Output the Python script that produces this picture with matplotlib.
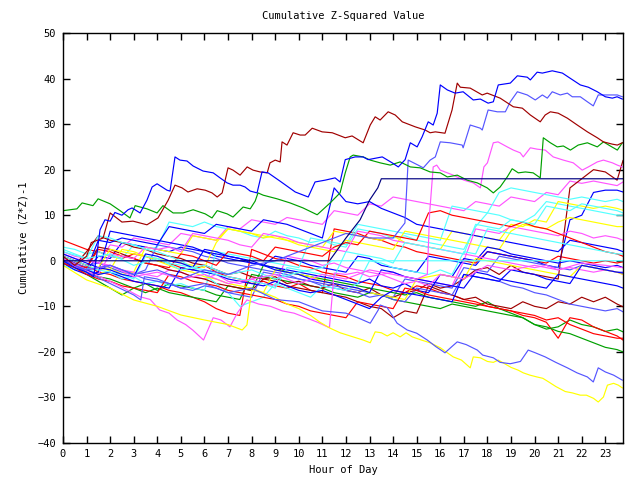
import numpy as np
import matplotlib
matplotlib.use("Agg")
import matplotlib.pyplot as plt

RED = "#ff0000"; GREEN = "#00a000"; BLUE = "#0000ff"; MAGENTA = "#ff55ff"
CYAN = "#55ffff"; DARKRED = "#a00000"; YELLOW = "#ffff00"; SLATE = "#5555ff"; NAVY = "#000080"

# shared half-hour grid for the bundle series
half_hours = list(np.arange(0, 24, 0.5)) + [23.75]

# ---------- prominent series (own hour knots) ----------
blue_top_h = [0, 0.5, 1.0, 1.3, 1.45, 1.57, 1.78, 2.0, 2.2, 2.5,
              2.76, 2.93, 3.27, 3.56, 3.78, 3.99, 4.41, 4.54, 4.75, 4.96,
              5.26, 5.52, 5.94, 6.37, 6.66, 6.96, 7.21, 7.51, 7.72, 7.94,
              8.23, 8.44, 8.70, 9.2, 9.85, 10.40, 10.69, 11.12, 11.54, 11.75,
              11.97, 12.39, 12.73, 12.94, 13.54, 13.96, 14.22, 14.51, 14.73, 15.02,
              15.23, 15.49, 15.70, 15.87, 16.0, 16.3, 16.63, 16.97, 17.4, 17.7,
              18.03, 18.25, 18.46, 18.97, 19.27, 19.69, 19.82, 20.11, 20.33, 20.75,
              21.18, 21.5, 21.94, 22.28, 22.66, 23.0, 23.3, 23.5, 23.72]
blue_top_v = [0, -1.5, -2.5, -3.5, 2, 6.8, 9.0, 8.7, 10.6, 10.0,
              11.2, 11.6, 10.5, 13.3, 16.2, 16.9, 15.5, 15.3, 22.8, 22.1,
              21.9, 20.8, 19.7, 19.3, 18.2, 17.1, 16.6, 16.6, 16.2, 15.3,
              14.9, 19.5, 19.3, 17.5, 15.1, 14.0, 17.3, 17.7, 18.2, 17.3,
              22.2, 22.8, 22.8, 22.2, 22.8, 21.5, 20.6, 22.2, 25.9, 25.0,
              27.2, 30.5, 29.8, 32.4, 38.6, 37.5, 36.8, 37.1, 35.3, 35.5,
              34.6, 34.9, 38.6, 39.0, 40.6, 40.3, 39.7, 41.4, 41.2, 41.7,
              41.2, 40.1, 38.6, 38.1, 37.1, 36.0, 35.7, 36.0, 35.5]

darkred_top_h = [0, 0.5, 1.0, 1.2, 1.45, 1.7, 2.0, 2.5, 2.97, 3.56,
                 4.03, 4.46, 4.75, 5.05, 5.3, 5.69, 6.03, 6.32, 6.54, 6.75,
                 7.0, 7.21, 7.51, 7.81, 8.06, 8.36, 8.66, 8.78, 9.0, 9.21,
                 9.29, 9.5, 9.76, 10.06, 10.27, 10.57, 10.78, 10.99, 11.42, 11.97,
                 12.26, 12.73, 13.03, 13.24, 13.45, 13.79, 14.09, 14.39, 14.94, 15.36,
                 15.57, 15.79, 16.2, 16.5, 16.72, 16.85, 17.27, 17.78, 17.99, 18.54,
                 19.1, 19.48, 19.82, 20.24, 20.45, 20.67, 21.0, 21.39, 21.81, 22.24,
                 22.66, 22.92, 23.3, 23.51, 23.72]
darkred_top_v = [1, -1, 1, 4, 4.5, 5, 10.5, 8.5, 8.7, 7.9,
                 9.4, 13.3, 16.6, 16.0, 15.1, 15.8, 15.5, 14.9, 14.0, 14.9,
                 20.4, 19.9, 18.8, 20.6, 19.9, 19.5, 19.3, 21.5, 22.1, 21.7,
                 26.1, 25.4, 28.1, 27.6, 27.6, 29.1, 28.7, 28.3, 28.1, 27.0,
                 27.4, 25.9, 29.8, 31.6, 30.9, 32.7, 32.0, 30.5, 29.4, 28.7,
                 28.1, 28.3, 28.0, 33.1, 39.0, 38.1, 37.9, 36.4, 36.8, 35.7,
                 33.8, 33.5, 32.0, 30.5, 32.0, 32.7, 32.4, 31.3, 29.8, 28.3,
                 27.0, 26.1, 25.6, 25.4, 25.9]

slate_top_h = [0, 1, 2, 3, 4, 5, 6, 7, 8, 9,
               10, 11, 12, 13, 14, 14.5, 14.64, 15.06, 15.28, 15.57,
               15.79, 16.0, 16.42, 16.93, 16.97, 17.27, 17.7, 17.78, 18.03, 18.42,
               18.76, 18.97, 19.27, 19.69, 20.03, 20.33, 20.54, 20.75, 21.09, 21.39,
               21.6, 21.94, 22.24, 22.49, 22.7, 23.09, 23.51, 23.72]
slate_top_v = [0, -2, -1, -3, -2, -4, -2, -3, -1, 0,
               2, 4, 6, 5, 5, 8.3, 22.1, 21.0, 20.4, 22.1,
               22.8, 26.1, 25.9, 25.4, 24.8, 29.8, 29.1, 28.7, 33.1, 32.7,
               32.7, 34.9, 37.1, 36.4, 35.3, 36.4, 35.7, 37.1, 36.4, 36.8,
               36.0, 36.0, 34.9, 34.0, 36.4, 36.4, 36.4, 36.0]

green_top_h = [0, 0.59, 0.81, 1.27, 1.49, 2.0, 2.42, 2.84, 3.06, 3.56,
               3.99, 4.24, 4.67, 5.09, 5.52, 6.03, 6.32, 6.54, 6.96, 7.21,
               7.64, 7.94, 8.15, 8.27, 8.49, 9.08, 9.63, 10.18, 10.78, 11.33,
               11.75, 11.97, 12.18, 12.31, 12.73, 13.03, 13.45, 13.88, 14.3, 14.73,
               15.15, 15.57, 16.0, 16.3, 16.72, 17.14, 17.57, 17.99, 18.25, 18.54,
               18.84, 19.05, 19.31, 19.61, 19.94, 20.24, 20.37, 20.67, 20.96, 21.22,
               21.52, 21.85, 22.24, 22.66, 22.92, 23.21, 23.51, 23.72]
green_top_v = [11.0, 11.4, 12.7, 12.1, 13.6, 12.5, 11.0, 9.4, 12.1, 11.4,
               10.5, 12.1, 10.5, 10.5, 11.2, 10.3, 9.4, 11.0, 10.3, 9.6,
               11.8, 11.4, 13.1, 14.9, 14.4, 13.6, 12.7, 11.6, 10.1, 12.7,
               14.9, 19.3, 22.8, 23.2, 22.8, 22.1, 21.5, 21.0, 21.7, 20.6,
               20.4, 19.5, 19.3, 18.4, 18.8, 17.7, 17.1, 16.0, 14.9, 16.2,
               18.4, 20.2, 19.3, 19.5, 19.3, 18.2, 27.0, 25.9, 25.0, 25.2,
               24.3, 25.4, 25.9, 25.0, 26.1, 25.2, 24.3, 25.9]

magenta_top_h = [0, 1, 2, 3, 4, 5, 6, 7, 8, 9, 10, 11, 12, 13, 14, 15,
                 15.45, 15.55, 15.7, 15.85,
                 16.0, 16.55, 17.0, 17.4, 17.7, 17.85, 18.0, 18.25, 18.45, 18.84,
                 19.1, 19.39, 19.52, 19.82, 20.11, 20.45, 20.79, 21.22, 21.64, 22.02,
                 22.28, 22.66, 22.92, 23.3, 23.51, 23.72]
magenta_top_v = [0.5, -2, -1, -3.5, -2.5, -4, -3, -5, -4, -3, -5, -3, -4, -2, -3, -4,
                 -3, 10.5, 20.6, 21.0,
                 19.9, 18.8, 17.7, 17.1, 16.0, 20.6, 21.5, 25.9, 26.1, 25.0,
                 24.3, 23.7, 22.8, 24.8, 24.5, 24.3, 22.8, 22.1, 21.5, 19.9,
                 20.6, 21.7, 22.1, 21.5, 21.0, 20.6]

navy_flat_h = [0, 11.3, 12.0, 12.6, 13.0, 13.35, 13.5, 23.75]
navy_flat_v = [0, 0, 5, 9, 13.3, 16, 18, 18]

cyan_flat_h = [0, 1, 2, 3, 4, 5, 6, 7, 8, 9, 10, 11, 11.4, 23.75]
cyan_flat_v = [2, 0.5, 1.5, -1, 0.5, -2, -1, -3, -2, -4, -2.5, -1.5, 0, 0]

yellow_low_h = [0, 1, 2, 3, 4, 5, 6, 7, 7.6, 7.8,
                8.0, 8.5, 9, 9.5, 10, 10.5, 10.9, 11.33, 11.75, 12.3,
                12.73, 13.03, 13.24, 13.5, 13.75, 14.0, 14.3, 14.55, 14.81, 15.2,
                15.57, 16.0, 16.3, 16.55, 16.9, 17.27, 17.4, 17.7, 18.0, 18.25,
                18.46, 18.7, 19.0, 19.3, 19.52, 19.8, 20.1, 20.35, 20.6, 20.9,
                21.3, 21.6, 21.94, 22.2, 22.5, 22.7, 22.92, 23.09, 23.35, 23.55,
                23.72]
yellow_low_v = [-1, -4.2, -6, -8.6, -10, -11.9, -13, -14, -15.2, -14.1,
                -6.5, -7, -8, -9.5, -10.5, -12, -13.5, -14.8, -15.8, -16.7,
                -17.4, -18.0, -15.6, -15.8, -16.5, -15.8, -16.7, -15.8, -16.7, -17.4,
                -18.0, -19.1, -20.2, -21.1, -21.8, -23.5, -21.1, -21.3, -22.1, -22.3,
                -21.8, -22.5, -23.4, -24.0, -24.6, -25.1, -25.5, -25.8, -26.6, -27.6,
                -28.7, -29.0, -29.5, -29.5, -30.2, -31.0, -29.9, -27.3, -26.9, -27.3,
                -27.9]

slate_low_h = [0, 1, 2, 3, 3.3, 3.45, 4, 5, 6, 7,
               8, 9, 10, 11, 12, 12.5, 13.03, 13.37, 13.45, 13.75,
               14.17, 14.6, 15.0, 15.45, 15.8, 16.2, 16.5, 16.72, 17.1, 17.57,
               17.8, 18.25, 18.54, 18.97, 19.4, 19.73, 20.03, 20.45, 20.9, 21.39,
               21.8, 22.24, 22.49, 22.7, 23.0, 23.35, 23.72]
slate_low_v = [0.5, -2.5, -5, -7.5, -8.6, -3.5, -4, -6, -5, -7,
               -6, -8.5, -9, -11, -11.5, -12.5, -13.7, -10.8, -9.7, -10.3,
               -13.7, -15.2, -15.9, -17.4, -18.8, -20.2, -18.8, -17.8, -18.4, -19.6,
               -20.7, -21.3, -22.3, -22.6, -22.1, -19.6, -20.2, -21.1, -22.3, -23.5,
               -24.6, -25.5, -26.6, -23.5, -24.4, -25.1, -26.2]

magenta_low_h = [0, 0.8, 1.57, 2.4, 3.27, 3.7, 4.1, 4.5, 4.84, 5.2,
                 5.5, 5.96, 6.37, 6.7, 7.08, 7.4, 7.8, 8.3, 8.8, 9.3,
                 9.8, 10.3, 10.8, 11.3, 11.5, 12.0, 12.5, 13.0, 13.5, 14.0,
                 14.5, 15.0, 15.5, 16.0, 17.0, 18.0, 19.0, 20.0, 21.0, 22.0,
                 23.0, 23.72]
magenta_low_v = [0, -2, -3.5, -5.5, -7.9, -8.5, -10.8, -11.5, -13, -14,
                 -15.2, -17.4, -12.5, -13, -14.5, -11.4, -8.6, -9.5, -10, -11,
                 -11.5, -12.5, -13.5, -14.7, -2.7, -3, -2.5, -3.5, -3, -4,
                 -5, -4.5, -5.5, -3, -4, -1, -2, -1, -2, -0.5,
                 -1, -1.5]

# ---------- bundle series on the half-hour grid ----------
cyan_a = [3, 2.5, 1.5, 2, 1, 0.5, 3.5, 2.5, 3, 8.5, 8, 7.5, 8.5, 7.5, 7, 6.5,
          5.5, 5, 6.5, 5.5, 5, 4, 4.5, 3.5, 3, 7, 6.5, 6, 5, 5.5, 4.5, 4,
          3.5, 3, 2.5, 7.5, 10.5, 10, 9, 8.5, 10, 13, 12.5, 12, 11.5, 11, 10.5, 10, 10]
yellow_a = [1, 0, -1, -2, -1.5, -3, -2.5, 3, 2.5, 2, 1.5, 5.5, 5, 4.5, 7, 6.5,
            6, 5, 5.5, 4.5, 4, 3.5, 3, 6.5, 6, 5.5, 5, 4.5, 5.5, 4, 3.5, 3,
            2.5, 6.5, 6, 5.5, 5, 4.5, 8, 7.5, 9, 8.5, 13, 12.5, 12, 11.5, 12, 11.5, 11.1]
cyan_b = [-1, -2, -1.5, -3, -2.5, -4, -3.5, -5, -4.5, -5.5, -5, -6, -6.5, 2, 1.5, 1,
          0.5, 0, -0.5, -1, -1.5, 5, 4.5, 4, 3.5, 8, 7.5, 7, 6.5, 6, 5.5, 5,
          4.5, 12, 11.5, 11, 10.5, 15, 16, 15.5, 15, 14.5, 14, 13.5, 14, 13.5, 13, 13.5, 13]
blue_a = [0, -1, -2, 1, 0.5, 4, 3.5, 3, 2.5, 2, 3, 2.5, 2, 1, 0.5, 0,
          -0.5, -1, 1, 0.5, 0, -1, -1.5, -2, -2.5, 1, 0.5, -1, -1.5, -2, -2.5, 1,
          0.5, 0, -0.5, -1, 2, 1.5, 1, 0.5, 0, -1, -1.5, 9, 10, 15, 15.5, 15.5, 15.1]
magenta_a = [1.5, 0.5, 0, -0.5, 3.5, 3, 5, 4.5, 4, 3.5, 6, 5.5, 5, 4.5, 7.5, 7,
             9, 8.5, 8, 9.5, 9, 8.5, 8, 11, 10.5, 10, 12.5, 12, 14, 13.5, 13, 12.5,
             12, 11.5, 11, 13, 12.5, 12, 14, 13.5, 13, 15, 14.5, 17.5, 17, 17.5, 17, 16.5, 17.3]
darkred_a = [0.5, -1, 2, 5.5, 4.5, 4, 3, 2.5, 1.5, 1, 0.5, -0.5, -1, -2, -3, -2.5,
             -3.5, -4, -3.5, -5, -4.5, -5.5, -6, -5, -6.5, -7, -6, -7.5, -8, -7, -6.5, -5,
             -6, -5.5, -4, -2, -1.5, -3, -1, -2.5, -3, -3.5, -4, 16, 18, 20, 19.5, 17.7, 22]
magenta_b = [2, 1, 0.5, -0.5, -1, -2, -2.5, -3, -3.5, -2, -2.5, -3.5, -4, -3, -4.5, -5,
             -4, -5, -5.5, 1, 0.5, 0, -1, -0.5, -1.5, -2, -2.5, -3, -2.5, -3.5, -4, -4.5,
             -5, -5.5, 0, 7, 6.5, 6, 7.5, 7, 6.5, 6, 5.5, 6.5, 6, 5, 5.5, 5, 4.5]
yellow_b = [-0.5, -1.5, -2.5, -3, -2, 2.5, 2, 1, 0.5, 0, -0.5, -1, -1.5, 4, 7, 6.5,
            6, 5.5, 5, 4.5, 3.5, 3, 2.5, 2, 4.5, 4, 3.5, 3, 2.5, 6.5, 6, 5.5,
            5, 4.5, 4, 3.5, 3, 2.5, 6.5, 8, 7.5, 7, 8.5, 9.5, 9, 8.5, 8, 7.5, 7.5]
blue_b = [0, -1.5, -2, 4.5, 4, 5, 4.5, 4, 3.5, 7.5, 7, 6.5, 6, 8, 7.5, 7,
          6.5, 9, 8.5, 8, 7, 6, 5, 16, 13, 12.5, 13, 11.5, 10.5, 9.5, 8, 7.5,
          7, 6.5, 6, 5.5, 5, 4.5, 4, 3.5, 3, 2.5, 2, 4.5, 4, 3.5, 3, 2.5, 2]
red_a = [4.5, 3.5, 2.5, 2, 1, 0.5, 1.5, 1, 0, -0.5, -1.5, -2, -1, -2.5, -3.5, -4,
         -5, -4.5, -5.5, -6, -5, -6.5, -7, 7, 6.5, 6, 5, 4.5, 3.5, 3, 2, 1.5,
         1, 0.5, 0, -0.5, 2, 1.5, 1, 0.5, 0, -0.5, 1, 0.5, 0, -0.5, 0, -0.5, -0.2]
blue_c = [-0.5, -2, -3, -2.5, 6.5, 6, 5.5, 5, 4.5, 4, 3.5, 3, 2, 1.5, 1, 0.5,
          0, -1, -1.5, -2, -2.5, -3, -3.5, -4, -4.5, -5, -4, -5.5, -6, -5, -6.5, -7,
          -3, -3.5, 0.5, 0, 3, 2.5, 1.5, 1, 0.5, 0, -0.5, 0, -0.5, -1, -1.5, -1, -1.5]
slate_a = [1, 0, -1, -0.5, -1.5, -2.5, -3, -2, 3.5, 3, 2.5, 2, 1, 0.5, -0.5, -1,
           -1.5, -2, -2.5, -3, -4, -4.5, -5, -5.5, -6, -6.5, -7, -7.5, -8, -4, -4.5, -5,
           -5.5, -6, -1.5, -2, -2.5, 1, 0.5, 0, -0.5, -1, -1.5, -2, -1, -1.5, -2, -2.5, -2.5]
blue_d = [0, -1, -2, -3, -2.5, -3.5, -4.5, -5, -5.5, -6, -1.5, -2, -2.5, -3, -4, -4.5,
          -5, -5.5, -4.5, -5.5, -6.5, -7, -6.5, -7.5, -8.5, -9.5, -10.5, -8, -6.5, -7, -7.5, -8,
          -8.5, -9, -3, -3.5, -4, -4.5, -2, -2.5, -3, -4, -4.5, -5, -1, -1.5, -2, -2.5, -2.7]
darkred_b = [0.5, -0.5, -1.5, 3, 2.5, 1.5, 0.5, -0.5, -1, -2, -2.5, -3.5, -4, -5, -5.5, -6,
             -6.5, -4, -4.5, -5.5, -6, -6.5, -7, -7.5, -8, -9, -10, -10.5, -12.5, -11, -11.5, -5.5,
             -6.5, -7.5, -8.5, -8, -9.5, -10, -10.5, -9, -10, -10.5, -9, -9.5, -8, -9, -8, -9.5, -10.1]
slate_b = [0.5, -0.5, -1.5, -2, -1, -2, -3, -4, -4.5, -5, -6, -6.5, -5.5, -6, -7, -7.5,
           -8, -2.5, -3, -3.5, -4, -4.5, -5.5, -6, -6.5, -7, -8, -7.5, -8.5, -9, -6, -6.5,
           -7, -7.5, -3, -3.5, -4, -4.5, -5.5, -6, -7, -7.5, -8.5, -9.5, -10, -10.5, -11, -10.5, -11.2]
green_a = [0, -1.5, -3, -4.5, -6, -7.5, -6, -5, -6.5, -5, -5.5, -6, -6.5, -7.5, -8, -8.5,
           -3, -3.5, -4, -4.5, -5, -5.5, -6, -7, -7.5, -8, -7, -7.5, -8.5, -9, -9.5, -10,
           -10.5, -9.5, -10, -10.5, -11, -11.5, -12, -12.5, -14, -15, -14.5, -13, -14, -14.5, -15.5, -15, -15.6]
red_b = [1, 0, -1, -2.5, -3, -4, -4.5, -5, -5.5, -6.5, -7, -8, -9, -10.5, -11.5, -12,
         2.5, 1.5, 0.5, 0, -1, -1.5, -2.5, -3, -3.5, -4.5, -5, -5.5, -6.5, -7, -5.5, -6,
         -7, -7.5, -8.5, -9, -10, -10.5, -11, -12, -12.5, -13.5, -17, -12.5, -13, -14.5, -15.5, -16.5, -17.4]
green_b = [-0.5, -1.5, -2.5, -3.5, -4, -5, -6, -7, -6, -7, -7.5, -8, -8.5, -9, -5.5, -6,
           -6.5, -1, -1.5, -2.5, -3, -3.5, -4, -4.5, -5, -5.5, -6, -6.5, -7, -7.5, -7, -8,
           -8.5, -9, -9.5, -10, -9, -10.5, -11.5, -12.5, -14, -14.5, -15.5, -16, -17, -18, -19, -19.5, -20]
cyan_c = [2.5, 1.5, 0.5, 5.5, 5, 4, 3.5, 2.5, 2, 1, 0, -1.5, -3, -5, -7, -10,
          -9, -8, -5, -6, -7, -8, -5.5, -6, -6.5, -5, 0, -0.5, -1.5, -2, -2.5, -3,
          -2, -3, 2, 1.5, 7, 6.5, 6, 5.5, 5, 4.5, 4, 3.5, 3, 2.5, 2, 1.5, 1.5]
red_c = [0, -1, -1.5, 2.5, 2, 1, 0.5, -0.5, -1, -1.5, 1.5, 1, 0, -1, 2, 1.5,
         1, 0, 3, 2.5, 2, 1.5, 1, 3, 4, 3.5, 6.5, 6, 5.5, 5, 4.5, 10.5,
         11, 10, 9.5, 9, 8.5, 8, 7.5, 8.5, 7.5, 7, 6, 5, 4, 3, 2, 1.5, 1]
magenta_c = [0, -1, -2, -3, 1.5, 1, 0.5, 3, 2.5, 3, 2, 6, 5.5, 5, 4.5, 3.5,
             3, 6, 5.5, 5, 4, 3.5, 3, 2.5, 2, 6.5, 6, 5.5, 4.5, 4, 3.5, 3,
             2.5, 2, 1.5, 1, 0.5, 0, -0.5, -1, -1.5, -1, -2, -1.5, -2, -2.5, -2, -2.5, -3]
cyan_d = [1, 0, -1, -2, -2.5, -3, -4, 1, 0.5, -0.5, -1, -1.5, -2, -3, -3.5, -4,
          -4.5, -5, -6, -1.5, -2, -2.5, -3, -3.5, 2, 1.5, 1, 0.5, -0.5, 4, 3.5, 3,
          2.5, 2, 1.5, 8, 7.5, 7, 9, 8.5, 8, 12, 11.5, 11, 12.5, 12, 11.5, 11, 10.5]
blue_e = [1.5, 0.5, -0.5, -1.5, -2, -3, -3.5, 1.5, 1, 0, -0.5, -1.5, 2.5, 2, 1, 0.5,
          -0.5, -1, -2, -2.5, -3, -4, -4.5, -5, -5.5, -6, -7, -2, -2.5, -3.5, -4, -4.5,
          -5, -5.5, -6, -2.5, -3, -4, -4.5, -5, -5.5, -6, -3, -3.5, -4, -4.5, -5, -5.5, -6]
red_d = [-0.5, -1.5, -3, -4, -4.5, -5.5, -6, -6.5, -7, -3, -3.5, -4.5, -5, -5.5, -6.5, -7,
         -7.5, -8, -8.5, -9.5, -10, -11, -11.5, -12, -12.5, -9, -9.5, -10, -10.5, -6, -6.5, -7.5,
         -8, -8.5, -9, -9.5, -10, -10.5, -11, -11.5, -12, -13, -12.5, -14, -15, -16, -16.5, -17, -17]
yellow_c = [0, -1, -2, -1.5, 2.5, 2, 1.5, 1, 0, -1, -2, -2.5, -3.5, -4, -5, -5.5,
            -6, -7, -2, -2.5, -3, -3.5, -4.5, -5, -5.5, -6, -7, -7.5, -8, -8.5, -4, -3.5,
            -3, -3.5, -4, 0.5, 0, -0.5, -1, -1.5, -2, -2.5, -3, -3.5, -1, -1.5, -2, -2.5, -3]

x_ticks = list(range(0, 24))
y_ticks = list(range(-40, 51, 10))

plt.rcParams['font.family'] = ['DejaVu Sans Mono']
fig = plt.figure(figsize=(6.4, 4.8), dpi=100)
ax = fig.add_axes([63 / 640, 37 / 480, 560 / 640, 410 / 480])

lw = 0.85
bundle = [
    (red_a, RED), (green_a, GREEN), (blue_a, BLUE), (magenta_a, MAGENTA), (cyan_a, CYAN),
    (darkred_a, DARKRED), (yellow_a, YELLOW), (slate_a, SLATE),
    (red_b, RED), (green_b, GREEN), (blue_b, BLUE), (magenta_b, MAGENTA), (cyan_b, CYAN),
    (darkred_b, DARKRED), (yellow_b, YELLOW), (slate_b, SLATE),
    (red_c, RED), (blue_c, BLUE), (magenta_c, MAGENTA), (cyan_c, CYAN), (yellow_c, YELLOW),
    (red_d, RED), (blue_d, BLUE), (cyan_d, CYAN), (blue_e, BLUE),
]
for vals, col in bundle:
    assert len(vals) == len(half_hours), (len(vals), col)
    ax.plot(half_hours, vals, color=col, lw=lw)

special = [
    (cyan_flat_h, cyan_flat_v, CYAN), (magenta_low_h, magenta_low_v, MAGENTA),
    (yellow_low_h, yellow_low_v, YELLOW), (slate_low_h, slate_low_v, SLATE),
    (magenta_top_h, magenta_top_v, MAGENTA), (slate_top_h, slate_top_v, SLATE),
    (green_top_h, green_top_v, GREEN), (darkred_top_h, darkred_top_v, DARKRED),
    (blue_top_h, blue_top_v, BLUE), (navy_flat_h, navy_flat_v, NAVY),
]
for hh, vv, col in special:
    assert len(hh) == len(vv), (len(hh), len(vv), col)
    ax.plot(hh, vv, color=col, lw=lw)

ax.set_xlim(0, 23.75)
ax.set_ylim(-40, 50)
ax.set_xticks(x_ticks)
ax.set_yticks(y_ticks)
ax.tick_params(direction='in', length=5, width=1, top=True, right=True,
               labelsize=7.5, colors='black')
ax.tick_params(axis='x', pad=4)
ax.tick_params(axis='y', pad=5)
for s in ax.spines.values():
    s.set_linewidth(1)
    s.set_color('black')

fig.text(343 / 640, 1 - 16 / 480, "Cumulative Z-Squared Value", ha='center', va='center', fontsize=7.5)
fig.text(343 / 640, 1 - 470 / 480, "Hour of Day", ha='center', va='center', fontsize=7.5)
fig.text(24 / 640, 1 - 238 / 480, "Cumulative (Z*Z)-1", ha='center', va='center',
         rotation=90, fontsize=7.5)

fig.savefig("out.png", dpi=100)
